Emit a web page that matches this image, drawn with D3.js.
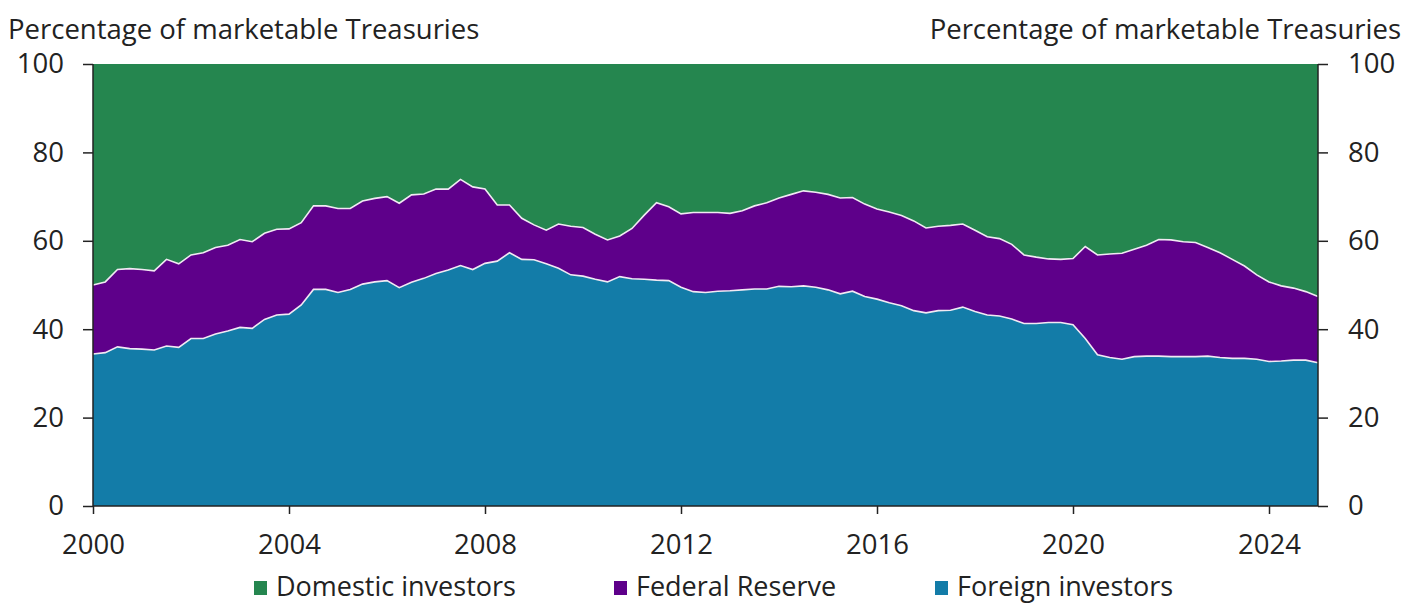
<!DOCTYPE html>
<html>
<head>
<meta charset="utf-8">
<script src="https://cdn.jsdelivr.net/npm/d3@7"></script>
<style>
  body { margin: 0; background: #fff; }
  text { font-family: "Open Sans", sans-serif; fill: #222; }
</style>
</head>
<body>
<div id="chart"></div>
<script>
// quarterly shares of marketable Treasuries, 2000Q1 .. 2025Q1
var firstYear = 2000;
var foreign = [34.4, 34.7, 36.0, 35.6, 35.5, 35.3, 36.2, 35.9, 37.9, 37.9, 38.9, 39.6, 40.4, 40.2, 42.2, 43.2,
    43.4, 45.5, 49.0, 49.0, 48.3, 49.0, 50.2, 50.7, 51.0, 49.4, 50.6, 51.5, 52.6, 53.4, 54.4, 53.5,
    54.9, 55.4, 57.3, 55.8, 55.7, 54.8, 53.8, 52.3, 52.0, 51.3, 50.7, 51.9, 51.4, 51.3, 51.1, 51.0,
    49.5, 48.5, 48.3, 48.6, 48.7, 48.9, 49.1, 49.1, 49.7, 49.6, 49.8, 49.5, 48.9, 48.0, 48.6, 47.4,
    46.8, 46.0, 45.3, 44.2, 43.7, 44.2, 44.3, 45.0, 44.0, 43.2, 43.0, 42.3, 41.3, 41.3, 41.5, 41.5,
    41.0, 37.9, 34.2, 33.6, 33.2, 33.8, 33.9, 33.9, 33.8, 33.8, 33.8, 33.9, 33.6, 33.4, 33.4, 33.2,
    32.7, 32.8, 33.0, 33.0, 32.4];
var fed = [15.6, 16.0, 17.5, 18.1, 18.0, 17.9, 19.6, 18.9, 18.9, 19.4, 19.6, 19.4, 19.9, 19.6, 19.5, 19.4,
    19.3, 18.6, 18.9, 18.9, 19.0, 18.3, 18.8, 18.9, 19.0, 19.1, 19.8, 19.1, 19.1, 18.3, 19.5, 18.7,
    16.8, 12.7, 10.8, 9.3, 7.9, 7.6, 10.0, 11.0, 11.0, 10.2, 9.5, 9.2, 11.4, 14.5, 17.5, 16.7,
    16.6, 17.9, 18.1, 17.8, 17.5, 17.9, 18.8, 19.5, 20.0, 20.9, 21.5, 21.5, 21.6, 21.7, 21.2, 20.9,
    20.4, 20.5, 20.4, 20.3, 19.2, 19.1, 19.2, 18.8, 18.4, 17.7, 17.5, 16.9, 15.5, 15.0, 14.4, 14.3,
    15.0, 20.8, 22.6, 23.4, 24.0, 24.3, 25.1, 26.4, 26.4, 26.0, 25.8, 24.6, 23.7, 22.4, 20.9, 19.1,
    18.0, 17.0, 16.3, 15.5, 15.0];
var domestic = [50.0, 49.3, 46.5, 46.3, 46.5, 46.8, 44.2, 45.2, 43.2, 42.7, 41.5, 41.0, 39.7, 40.2, 38.3, 37.4,
    37.3, 35.9, 32.1, 32.1, 32.7, 32.7, 31.0, 30.4, 30.0, 31.5, 29.6, 29.4, 28.3, 28.3, 26.1, 27.8,
    28.3, 31.9, 31.9, 34.9, 36.4, 37.6, 36.2, 36.7, 37.0, 38.5, 39.8, 38.9, 37.2, 34.2, 31.4, 32.3,
    33.9, 33.6, 33.6, 33.6, 33.8, 33.2, 32.1, 31.4, 30.3, 29.5, 28.7, 29.0, 29.5, 30.3, 30.2, 31.7,
    32.8, 33.5, 34.3, 35.5, 37.1, 36.7, 36.5, 36.2, 37.6, 39.1, 39.5, 40.8, 43.2, 43.7, 44.1, 44.2,
    44.0, 41.3, 43.2, 43.0, 42.8, 41.9, 41.0, 39.7, 39.8, 40.2, 40.4, 41.5, 42.7, 44.2, 45.7, 47.7,
    49.3, 50.2, 50.7, 51.5, 52.6];

var seriesKeys = ["foreign", "fed", "domestic"];
var seriesNames = {domestic: "Domestic investors", fed: "Federal Reserve", foreign: "Foreign investors"};
var colors = {domestic: "#25864f", fed: "#5e008a", foreign: "#137ca8"};
var legendOrder = ["domestic", "fed", "foreign"];
var xTicks = [2000, 2004, 2008, 2012, 2016, 2020, 2024];
var yTicks = [0, 20, 40, 60, 80, 100];
var axisTitle = "Percentage of marketable Treasuries";

var w = 1406, h = 606;
var margin = {left: 93, right: 88, top: 64, bottom: 100};
var fontSize = "27.5px";

var svg = d3.select("#chart").append("svg")
    .attr("width", w)
    .attr("height", h);

var rows = foreign.map(function(v, i) {
    return {date: firstYear + i / 4, foreign: v, fed: fed[i], domestic: domestic[i]};
});

var x = d3.scaleLinear().domain([2000, 2025]).range([margin.left, w - margin.right]);
var y = d3.scaleLinear().domain([0, 100]).range([h - margin.bottom, margin.top]);

var stacked = d3.stack().keys(seriesKeys)(rows);

var area = d3.area()
    .x(function(d) { return x(d.data.date); })
    .y0(function(d) { return y(d[0]); })
    .y1(function(d) { return y(Math.min(d[1], 100)); });

svg.selectAll(".layer")
    .data(stacked)
    .enter()
    .append("path")
    .attr("class", "layer")
    .attr("fill", function(d) { return colors[d.key]; })
    .attr("d", area);

// thin light borders between the layers
var edge = d3.line()
    .x(function(d) { return x(d.data.date); })
    .y(function(d) { return y(d[1]); });

svg.selectAll(".edge")
    .data(stacked.slice(0, 2))
    .enter()
    .append("path")
    .attr("class", "edge")
    .attr("fill", "none")
    .attr("stroke", "#f1e9f3")
    .attr("stroke-width", 1.6)
    .attr("d", edge);

// axes
var left = svg.append("g")
    .attr("transform", "translate(" + margin.left + ",0)")
    .call(d3.axisLeft(y).tickValues(yTicks).tickSize(10).tickPadding(19));
var right = svg.append("g")
    .attr("transform", "translate(" + (w - margin.right) + ",0)")
    .call(d3.axisRight(y).tickValues(yTicks).tickSize(10).tickPadding(20));
var bottom = svg.append("g")
    .attr("transform", "translate(0," + (h - margin.bottom) + ")")
    .call(d3.axisBottom(x).tickValues(xTicks).tickFormat(d3.format("d")).tickSize(8).tickPadding(20));

[left, right, bottom].forEach(function(g) {
    g.select(".domain").attr("stroke", "#222").attr("stroke-width", 1.5);
    g.selectAll(".tick line").attr("stroke", "#222").attr("stroke-width", 1.5);
    g.selectAll(".tick text")
        .style("font-family", "'Open Sans', sans-serif")
        .style("font-size", fontSize)
        .attr("fill", "#222");
});
left.select(".domain").attr("d", "M0," + y(100) + "V" + y(0));
right.select(".domain").attr("d", "M0," + y(100) + "V" + y(0));
bottom.select(".domain").attr("d", "M" + x(2000) + ",0H" + x(2025));

svg.append("text")
    .attr("x", 8)
    .attr("y", 39)
    .style("font-size", fontSize)
    .text(axisTitle);

svg.append("text")
    .attr("x", w - 5)
    .attr("y", 39)
    .attr("text-anchor", "end")
    .style("font-size", fontSize)
    .text(axisTitle);

// legend
var legendX = [254, 614, 935];
var legend = svg.selectAll(".legend")
    .data(legendOrder)
    .enter()
    .append("g")
    .attr("class", "legend")
    .attr("transform", function(d, i) { return "translate(" + legendX[i] + ",587)"; });

legend.append("rect")
    .attr("x", 0)
    .attr("y", -6)
    .attr("width", 13)
    .attr("height", 14)
    .attr("fill", function(d) { return colors[d]; });

legend.append("text")
    .attr("x", 22)
    .attr("y", 0)
    .attr("dy", "0.35em")
    .style("font-size", "27px")
    .text(function(d) { return seriesNames[d]; });
</script>
</body>
</html>
